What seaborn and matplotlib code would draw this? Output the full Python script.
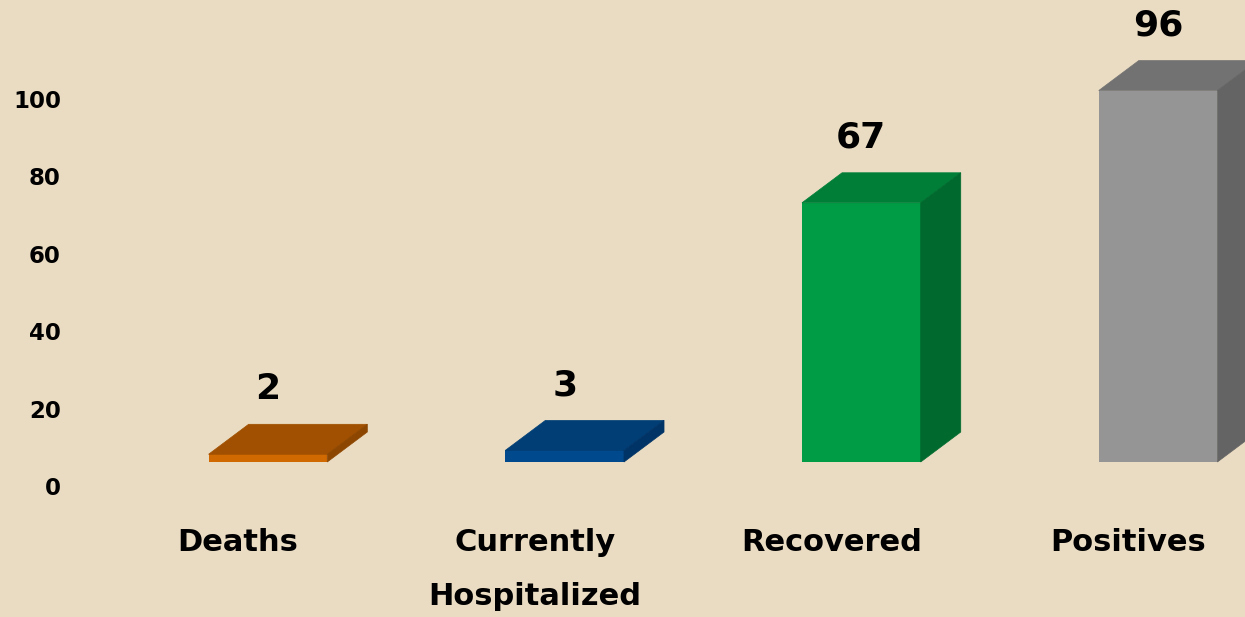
import matplotlib
matplotlib.use("Agg")
import matplotlib.pyplot as plt
import matplotlib.transforms as mtransforms
from matplotlib.patches import Polygon
import seaborn as sns

# data
categories = ["Deaths", "Currently\nHospitalized", "Recovered", "Positives"]
values = [2, 3, 67, 96]
y_ticks = [0, 20, 40, 60, 80, 100]

# colours: front / top / side face of each 3D bar
front_colors = ["#D06A00", "#00498C", "#009B45", "#959595"]
top_colors = ["#A05000", "#003E75", "#007E38", "#727272"]
side_colors = ["#8C4600", "#003366", "#006A2E", "#646464"]
bg = "#EADCC2"

# 3D look (layout constants)
base_shift = 6.2      # front face floor above value 0
depth_dx = 0.135      # depth in category units
depth_dy = 7.75       # depth in value units
bar_width = 0.40

sns.set_theme(style="white")
plt.rcParams["font.family"] = ["DejaVu Sans"]

fig = plt.figure(figsize=(12.45, 6.17), dpi=100, facecolor=bg)
ax = fig.add_axes([70 / 1245, 131 / 617, 1175 / 1245, 486 / 617])
ax.set_facecolor(bg)

sns.barplot(x=categories, y=values, hue=categories, palette=front_colors,
            width=bar_width, saturation=1, legend=False, linewidth=0, ax=ax)

for i, rect in enumerate(ax.patches):
    rect.set_y(base_shift)
    x0, w, h = rect.get_x(), rect.get_width(), rect.get_height()
    y0, y1 = base_shift, base_shift + h
    top = Polygon([(x0, y1), (x0 + w, y1), (x0 + w + depth_dx, y1 + depth_dy),
                   (x0 + depth_dx, y1 + depth_dy)], closed=True,
                  facecolor=top_colors[i], edgecolor=top_colors[i], linewidth=0.5)
    side = Polygon([(x0 + w, y0), (x0 + w + depth_dx, y0 + depth_dy),
                    (x0 + w + depth_dx, y1 + depth_dy), (x0 + w, y1)], closed=True,
                   facecolor=side_colors[i], edgecolor=side_colors[i], linewidth=0.5)
    ax.add_patch(top)
    ax.add_patch(side)
    ax.annotate(str(values[i]), xy=(x0 + w / 2, y1 + depth_dy), xytext=(0, 18),
                textcoords="offset points", ha="center", va="baseline",
                fontsize=26, fontweight="bold", color="black", annotation_clip=False)

ax.set_xlim(-0.667, 3.293)
ax.set_ylim(0, 125.6)
ax.set_yticks(y_ticks)
ax.set_yticklabels([str(t) for t in y_ticks], fontsize=16.5, fontweight="bold",
                   color="black")
ax.tick_params(axis="y", length=0, pad=6.5)
ax.tick_params(axis="x", length=0, pad=30)
for lbl in ax.get_xticklabels():
    lbl.set_fontsize(22)
    lbl.set_fontweight("bold")
    lbl.set_color("black")
    lbl.set_linespacing(2.1)
    lbl.set_transform(lbl.get_transform() +
                      mtransforms.ScaledTranslation(-0.30, 0, fig.dpi_scale_trans))
ax.set_xlabel("")
ax.set_ylabel("")
sns.despine(ax=ax, left=True, bottom=True)

fig.savefig("out.png", dpi=100, facecolor=bg)
